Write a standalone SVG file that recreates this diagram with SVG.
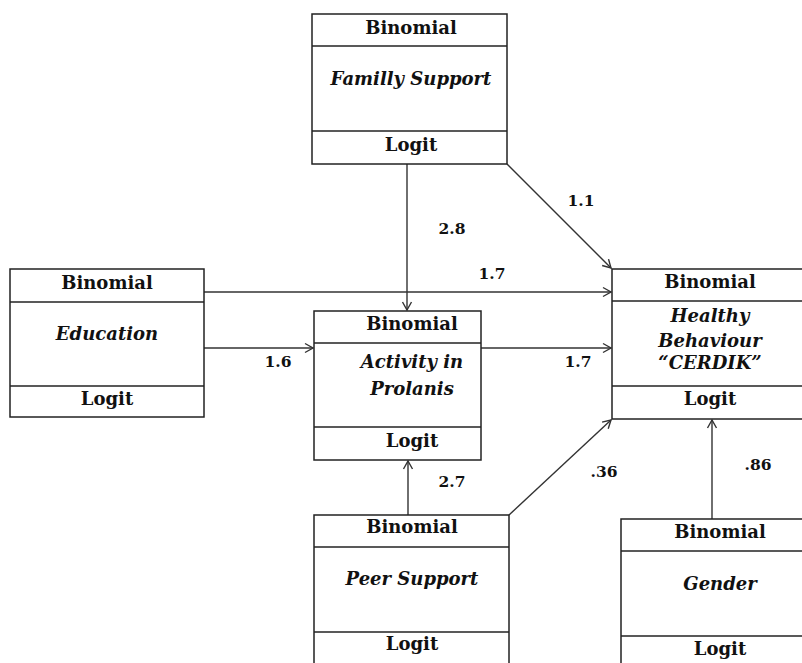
<svg xmlns="http://www.w3.org/2000/svg" width="802" height="663" viewBox="0 0 802 663">
<style>
.box{fill:#fff;stroke:#222;stroke-width:1.5}
.div{stroke:#222;stroke-width:1.5}
.t{font-family:"DejaVu Serif","Liberation Serif",serif;font-weight:bold;font-size:18px;fill:#111;text-anchor:middle}
.i{font-style:italic}
.lbl{font-family:"DejaVu Serif","Liberation Serif",serif;font-weight:bold;font-size:15.5px;fill:#111;text-anchor:middle}
.c{stroke:#333;stroke-width:1.4;fill:none;marker-end:url(#ah)}
</style>
<defs>
<marker id="ah" viewBox="0 0 12 12" refX="11" refY="6" markerWidth="12" markerHeight="12" markerUnits="userSpaceOnUse" orient="auto">
<path d="M3,1.5 L11,6 L3,10.5" fill="none" stroke="#333" stroke-width="1.4"/>
</marker>
</defs>
<g id="connectors">
<line class="c" x1="407" y1="164" x2="407" y2="310"/>
<line class="c" x1="507" y1="164" x2="611" y2="268"/>
<line class="c" x1="204" y1="292" x2="611" y2="292"/>
<line class="c" x1="204" y1="348" x2="313" y2="348"/>
<line class="c" x1="481" y1="348" x2="611" y2="348"/>
<line class="c" x1="408" y1="515" x2="408" y2="461"/>
<line class="c" x1="509" y1="515" x2="611" y2="420"/>
<line class="c" x1="712" y1="519" x2="712" y2="420"/>
<text class="lbl" x="581" y="206">1.1</text>
<text class="lbl" x="452" y="234">2.8</text>
<text class="lbl" x="492" y="279">1.7</text>
<text class="lbl" x="278" y="367">1.6</text>
<text class="lbl" x="578" y="367">1.7</text>
<text class="lbl" x="452" y="487">2.7</text>
<text class="lbl" x="604" y="477">.36</text>
<text class="lbl" x="758" y="470">.86</text>
</g>
<g id="family">
<rect class="box" x="312" y="14" width="195" height="150"/>
<line class="div" x1="312" y1="46" x2="507" y2="46"/>
<line class="div" x1="312" y1="131" x2="507" y2="131"/>
<text class="t" x="411" y="34">Binomial</text>
<text class="t i" x="411" y="85">Familly Support</text>
<text class="t" x="411" y="151">Logit</text>
</g>
<g id="education">
<rect class="box" x="10" y="269" width="194" height="148"/>
<line class="div" x1="10" y1="302" x2="204" y2="302"/>
<line class="div" x1="10" y1="386" x2="204" y2="386"/>
<text class="t" x="107" y="289">Binomial</text>
<text class="t i" x="107" y="340">Education</text>
<text class="t" x="107" y="405">Logit</text>
</g>
<g id="activity">
<rect class="box" x="314" y="311" width="167" height="149"/>
<line class="div" x1="314" y1="343" x2="481" y2="343"/>
<line class="div" x1="314" y1="427" x2="481" y2="427"/>
<text class="t" x="412" y="330">Binomial</text>
<text class="t i" x="412" y="368">Activity in</text>
<text class="t i" x="412" y="395">Prolanis</text>
<text class="t" x="412" y="447">Logit</text>
</g>
<g id="healthy">
<rect class="box" x="612" y="269" width="200" height="150"/>
<line class="div" x1="612" y1="301" x2="812" y2="301"/>
<line class="div" x1="612" y1="386" x2="812" y2="386"/>
<text class="t" x="710" y="288">Binomial</text>
<text class="t i" x="710" y="322">Healthy</text>
<text class="t i" x="710" y="347">Behaviour</text>
<text class="t i" x="710" y="369">“CERDIK”</text>
<text class="t" x="710" y="405">Logit</text>
</g>
<g id="peer">
<rect class="box" x="314" y="515" width="195" height="160"/>
<line class="div" x1="314" y1="547" x2="509" y2="547"/>
<line class="div" x1="314" y1="632" x2="509" y2="632"/>
<text class="t" x="412" y="533">Binomial</text>
<text class="t i" x="412" y="585">Peer Support</text>
<text class="t" x="412" y="650">Logit</text>
</g>
<g id="gender">
<rect class="box" x="621" y="519" width="200" height="160"/>
<line class="div" x1="621" y1="551" x2="821" y2="551"/>
<line class="div" x1="621" y1="636" x2="821" y2="636"/>
<text class="t" x="720" y="538">Binomial</text>
<text class="t i" x="720" y="590">Gender</text>
<text class="t" x="720" y="655">Logit</text>
</g>
</svg>
